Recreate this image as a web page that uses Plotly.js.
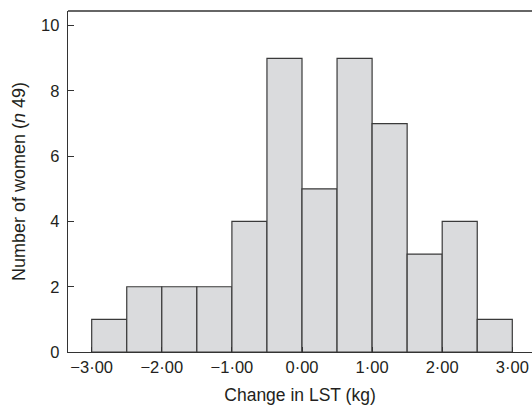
<!DOCTYPE html>
<html>
<head>
<meta charset="utf-8">
<script src="https://cdn.plot.ly/plotly-3.0.1.min.js"></script>
<style>html,body{margin:0;padding:0;background:#fff;}#chart{width:532px;height:408px;}</style>
</head>
<body>
<div id="chart"></div>
<script>
var binCenters = [-2.75, -2.25, -1.75, -1.25, -0.75, -0.25, 0.25, 0.75, 1.25, 1.75, 2.25, 2.75];
var counts = [1, 2, 2, 2, 4, 9, 5, 9, 7, 3, 4, 1];
var binWidth = 0.5;
var xTickVals = [-3, -2, -1, 0, 1, 2, 3];
var xTickText = ['\u22123\u00b700', '\u22122\u00b700', '\u22121\u00b700', '0\u00b700', '1\u00b700', '2\u00b700', '3\u00b700'];
var yTickVals = [0, 2, 4, 6, 8, 10];

var trace = {
  type: 'bar',
  x: binCenters,
  y: counts,
  width: binCenters.map(function(){return binWidth;}),
  marker: {color: '#dadbdd', line: {color: '#3a3a3a', width: 1.2}},
  hoverinfo: 'x+y'
};

var layout = {
  width: 532, height: 408,
  margin: {l: 68, r: 0, t: 11, b: 56},
  paper_bgcolor: '#ffffff', plot_bgcolor: '#ffffff',
  font: {family: 'Liberation Sans, Arial, sans-serif', color: '#231f20', size: 16.5},
  showlegend: false,
  bargap: 0,
  xaxis: {
    range: [-3.338, 3.281],
    tickvals: xTickVals, ticktext: xTickText,
    ticks: 'inside', ticklen: 5, tickcolor: '#333',
    showline: true, linecolor: '#333', linewidth: 1.3,
    showgrid: false, zeroline: false,
    tickfont: {size: 16.5},
    ticklabelstandoff: 0,
    title: {text: 'Change in LST (kg)', font: {size: 17.5}, standoff: 13}
  },
  yaxis: {
    range: [0, 10.45],
    tickvals: yTickVals,
    ticks: 'inside', ticklen: 6, tickcolor: '#333',
    showline: true, linecolor: '#333', linewidth: 1.3,
    showgrid: false, zeroline: false,
    tickfont: {size: 16.5},
    ticklabelstandoff: 4,
    title: {text: 'Number of women (<i>n</i> 49)', font: {size: 18}, standoff: 10}
  },
  shapes: [{type: 'line', xref: 'paper', yref: 'paper', x0: 0, x1: 1, y0: 1, y1: 1, line: {color: '#333', width: 1.3}}]
};

Plotly.newPlot('chart', [trace], layout, {displayModeBar: false, staticPlot: true});
</script>
</body>
</html>
